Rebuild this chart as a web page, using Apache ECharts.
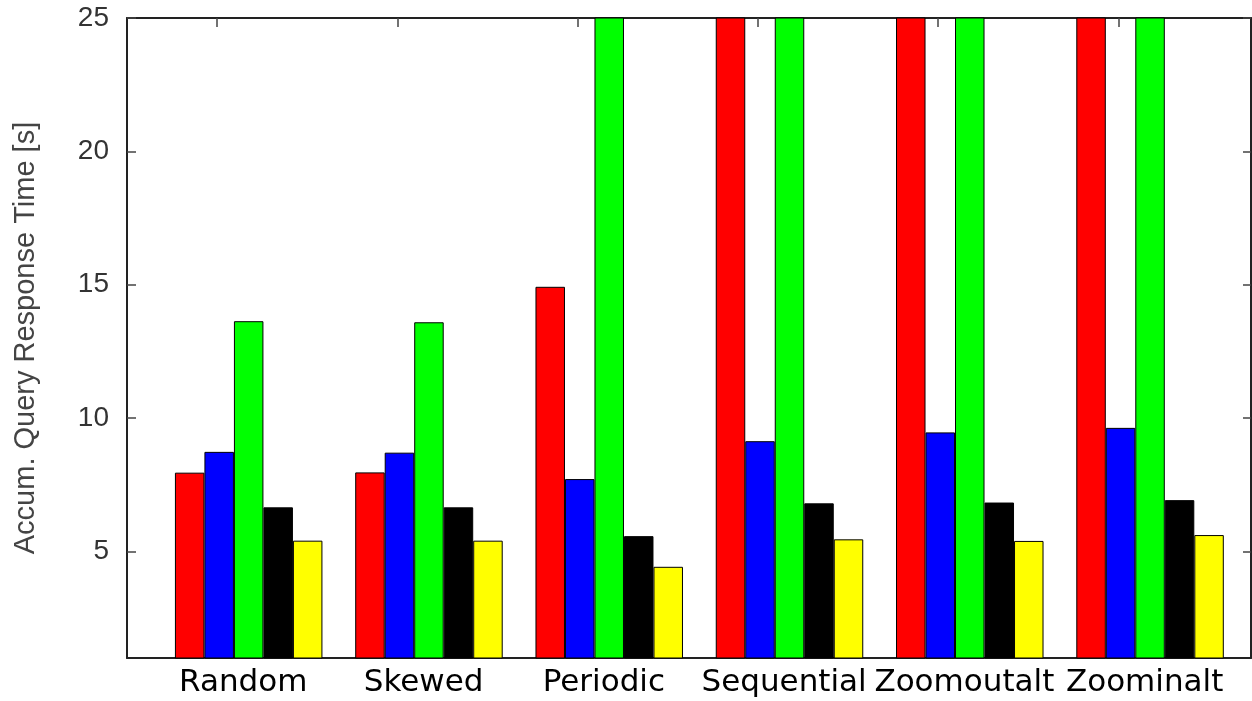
<!DOCTYPE html>
<html>
<head>
<meta charset="utf-8">
<script src="https://cdn.jsdelivr.net/npm/echarts@6/dist/echarts.min.js"></script>
<style>
html,body{margin:0;padding:0;background:#fff;}
#chart{width:1252px;height:701px;}
</style>
</head>
<body>
<div id="chart"></div>
<script>
// ---- data ----
var categories = ['Random', 'Skewed', 'Periodic', 'Sequential', 'Zoomoutalt', 'Zoominalt'];
var redValues    = [7.95, 7.96, 14.92, 30, 30, 30];
var blueValues   = [8.73, 8.70, 7.71, 9.13, 9.46, 9.63];
var greenValues  = [13.63, 13.59, 30, 30, 30, 30];
var blackValues  = [6.65, 6.65, 5.57, 6.80, 6.83, 6.92];
var yellowValues = [5.40, 5.40, 4.42, 5.45, 5.39, 5.61];
var yTicks = [5, 10, 15, 20, 25];
var yName = 'Accum. Query Response Time [s]';

// ---- chart ----
var chart = echarts.init(document.getElementById('chart'), null, {renderer: 'canvas'});
var labelPos = categories.map(function (_, i) { return i - 0.03; });
function toPairs(arr) { return arr.map(function (v, i) { return [i, v]; }); }

var seriesDefs = [
  {name: 'Series 1', color: '#ff0000', data: redValues},
  {name: 'Series 2', color: '#0000ff', data: blueValues},
  {name: 'Series 3', color: '#00ff00', data: greenValues},
  {name: 'Series 4', color: '#000000', data: blackValues},
  {name: 'Series 5', color: '#ffff00', data: yellowValues}
];

var X_MIN = -0.675, X_MAX = 5.56;

var option = {
  backgroundColor: '#ffffff',
  animation: false,
  grid: [
    {left: 127, right: 1, top: 18, bottom: 43, containLabel: false},
    // helper grid carrying only the mirrored top tick marks (spacing = one cluster)
    {left: 217, right: 133.5, top: 18, bottom: 43, containLabel: false}
  ],
  xAxis: [
    {
      type: 'value', gridIndex: 0, position: 'bottom', min: X_MIN, max: X_MAX,
      axisLine: {show: true, onZero: false, lineStyle: {color: '#222', width: 2}},
      axisTick: {show: false},
      splitLine: {show: false},
      axisLabel: {
        customValues: labelPos,
        formatter: function (v) { return categories[Math.round(v)]; },
        fontFamily: 'DejaVu Sans', fontSize: 31, color: '#000', margin: 9
      }
    },
    {
      type: 'value', gridIndex: 0, position: 'top', min: X_MIN, max: X_MAX,
      axisLine: {show: true, onZero: false, lineStyle: {color: '#222', width: 2}},
      axisTick: {show: false},
      axisLabel: {show: false},
      splitLine: {show: false}
    },
    {
      type: 'value', gridIndex: 1, position: 'top', min: 0, max: categories.length - 1, interval: 1,
      axisLine: {show: false, onZero: false},
      axisTick: {show: true, inside: true, length: 9, lineStyle: {color: '#444', width: 1.5}},
      axisLabel: {show: false},
      splitLine: {show: false}
    }
  ],
  yAxis: [
    {
      type: 'value', gridIndex: 0, position: 'left', min: 1, max: 25,
      name: yName, nameLocation: 'middle', nameGap: 87,
      nameTextStyle: {fontFamily: 'Liberation Sans', fontSize: 29, color: '#444'},
      axisLine: {show: true, onZero: false, lineStyle: {color: '#222', width: 2}},
      axisTick: {show: true, inside: true, length: 9, customValues: yTicks, lineStyle: {color: '#444', width: 1.5}},
      axisLabel: {customValues: yTicks, fontFamily: 'Liberation Sans', fontSize: 28, color: '#333', margin: 18},
      splitLine: {show: false}
    },
    {
      type: 'value', gridIndex: 0, position: 'right', min: 1, max: 25,
      axisLine: {show: true, onZero: false, lineStyle: {color: '#222', width: 2}},
      axisTick: {show: true, inside: true, length: 8, customValues: yTicks, lineStyle: {color: '#444', width: 1.5}},
      axisLabel: {show: false},
      splitLine: {show: false}
    },
    {
      type: 'value', gridIndex: 1, min: 0, max: 1, show: false
    }
  ],
  series: seriesDefs.map(function (s) {
    return {
      name: s.name, type: 'bar', xAxisIndex: 0, yAxisIndex: 0,
      data: toPairs(s.data),
      barWidth: 29.5, barGap: '0%', clip: true,
      itemStyle: {color: s.color, borderColor: '#000', borderWidth: 1}
    };
  })
};
chart.setOption(option);
</script>
</body>
</html>
